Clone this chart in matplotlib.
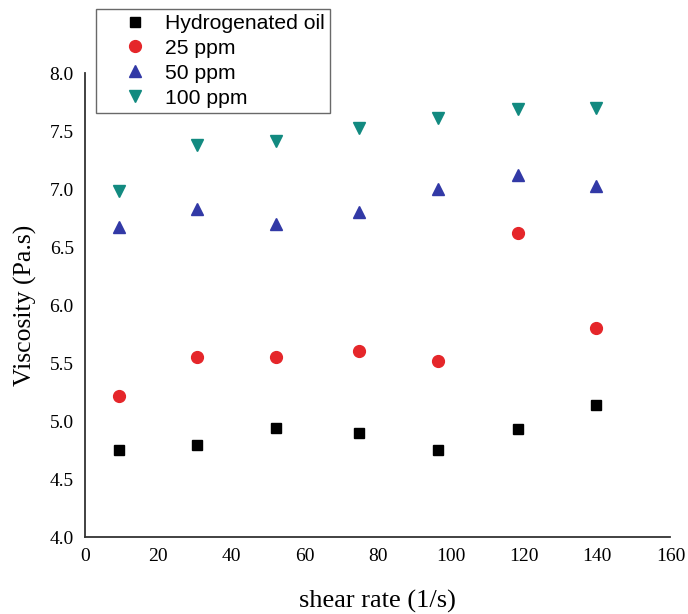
import matplotlib
matplotlib.use("Agg")
import matplotlib.pyplot as plt

# shear rate (1/s)
shear = [9.3, 30.6, 52.3, 75.0, 96.6, 118.4, 139.7]

# viscosity (Pa.s) por serie
hidrogenado = [4.75, 4.79, 4.94, 4.90, 4.75, 4.93, 5.14]
ppm25 = [5.22, 5.55, 5.55, 5.60, 5.52, 6.62, 5.80]
ppm50 = [6.67, 6.83, 6.70, 6.80, 7.00, 7.12, 7.03]
ppm100 = [6.98, 7.38, 7.41, 7.53, 7.61, 7.69, 7.70]

yticks = [4.0, 4.5, 5.0, 5.5, 6.0, 6.5, 7.0, 7.5, 8.0]
xticks = [0, 20, 40, 60, 80, 100, 120, 140, 160]

fig = plt.figure(figsize=(6.88, 6.14), dpi=100)
ax = fig.add_axes([0.1235, 0.1254, 0.851, 0.7556])

ax.plot(shear, hidrogenado, "s", color="black", markersize=7.5, label="Hydrogenated oil")
ax.plot(shear, ppm25, "o", color="#e5262a", markersize=8.5, label="25 ppm")
ax.plot(shear, ppm50, "^", color="#3239a6", markersize=9, label="50 ppm")
ax.plot(shear, ppm100, "v", color="#128a80", markersize=9, label="100 ppm")

ax.set_xlim(0, 160)
ax.set_ylim(4.0, 8.0)
ax.set_xticks(xticks)
ax.set_yticks(yticks)
ax.set_yticklabels([f"{v:.1f}" for v in yticks])
ax.tick_params(length=0, labelsize=14, pad=8)
for lab in ax.get_xticklabels() + ax.get_yticklabels():
    lab.set_fontfamily("Liberation Serif")

ax.spines["top"].set_visible(False)
ax.spines["right"].set_visible(False)
ax.spines["left"].set_linewidth(1.3)
ax.spines["bottom"].set_linewidth(1.3)
ax.spines["left"].set_color("#333333")
ax.spines["bottom"].set_color("#333333")

ax.set_xlabel("shear rate (1/s)", fontfamily="Liberation Serif", fontsize=19, labelpad=18)
ax.set_ylabel("Viscosity (Pa.s)", fontfamily="Liberation Serif", fontsize=18.5, labelpad=9)

leg = ax.legend(loc="lower left", bbox_to_anchor=(0.0188, 0.914), frameon=True,
                fancybox=False, prop={"family": "Liberation Sans", "size": 15.2},
                labelspacing=0.28, handletextpad=-0.19, borderpad=0.25,
                handlelength=3.2, borderaxespad=0)
leg.get_frame().set_edgecolor("#444444")
leg.get_frame().set_linewidth(1.0)
leg.set_clip_on(False)

fig.savefig("out.png", dpi=100)
